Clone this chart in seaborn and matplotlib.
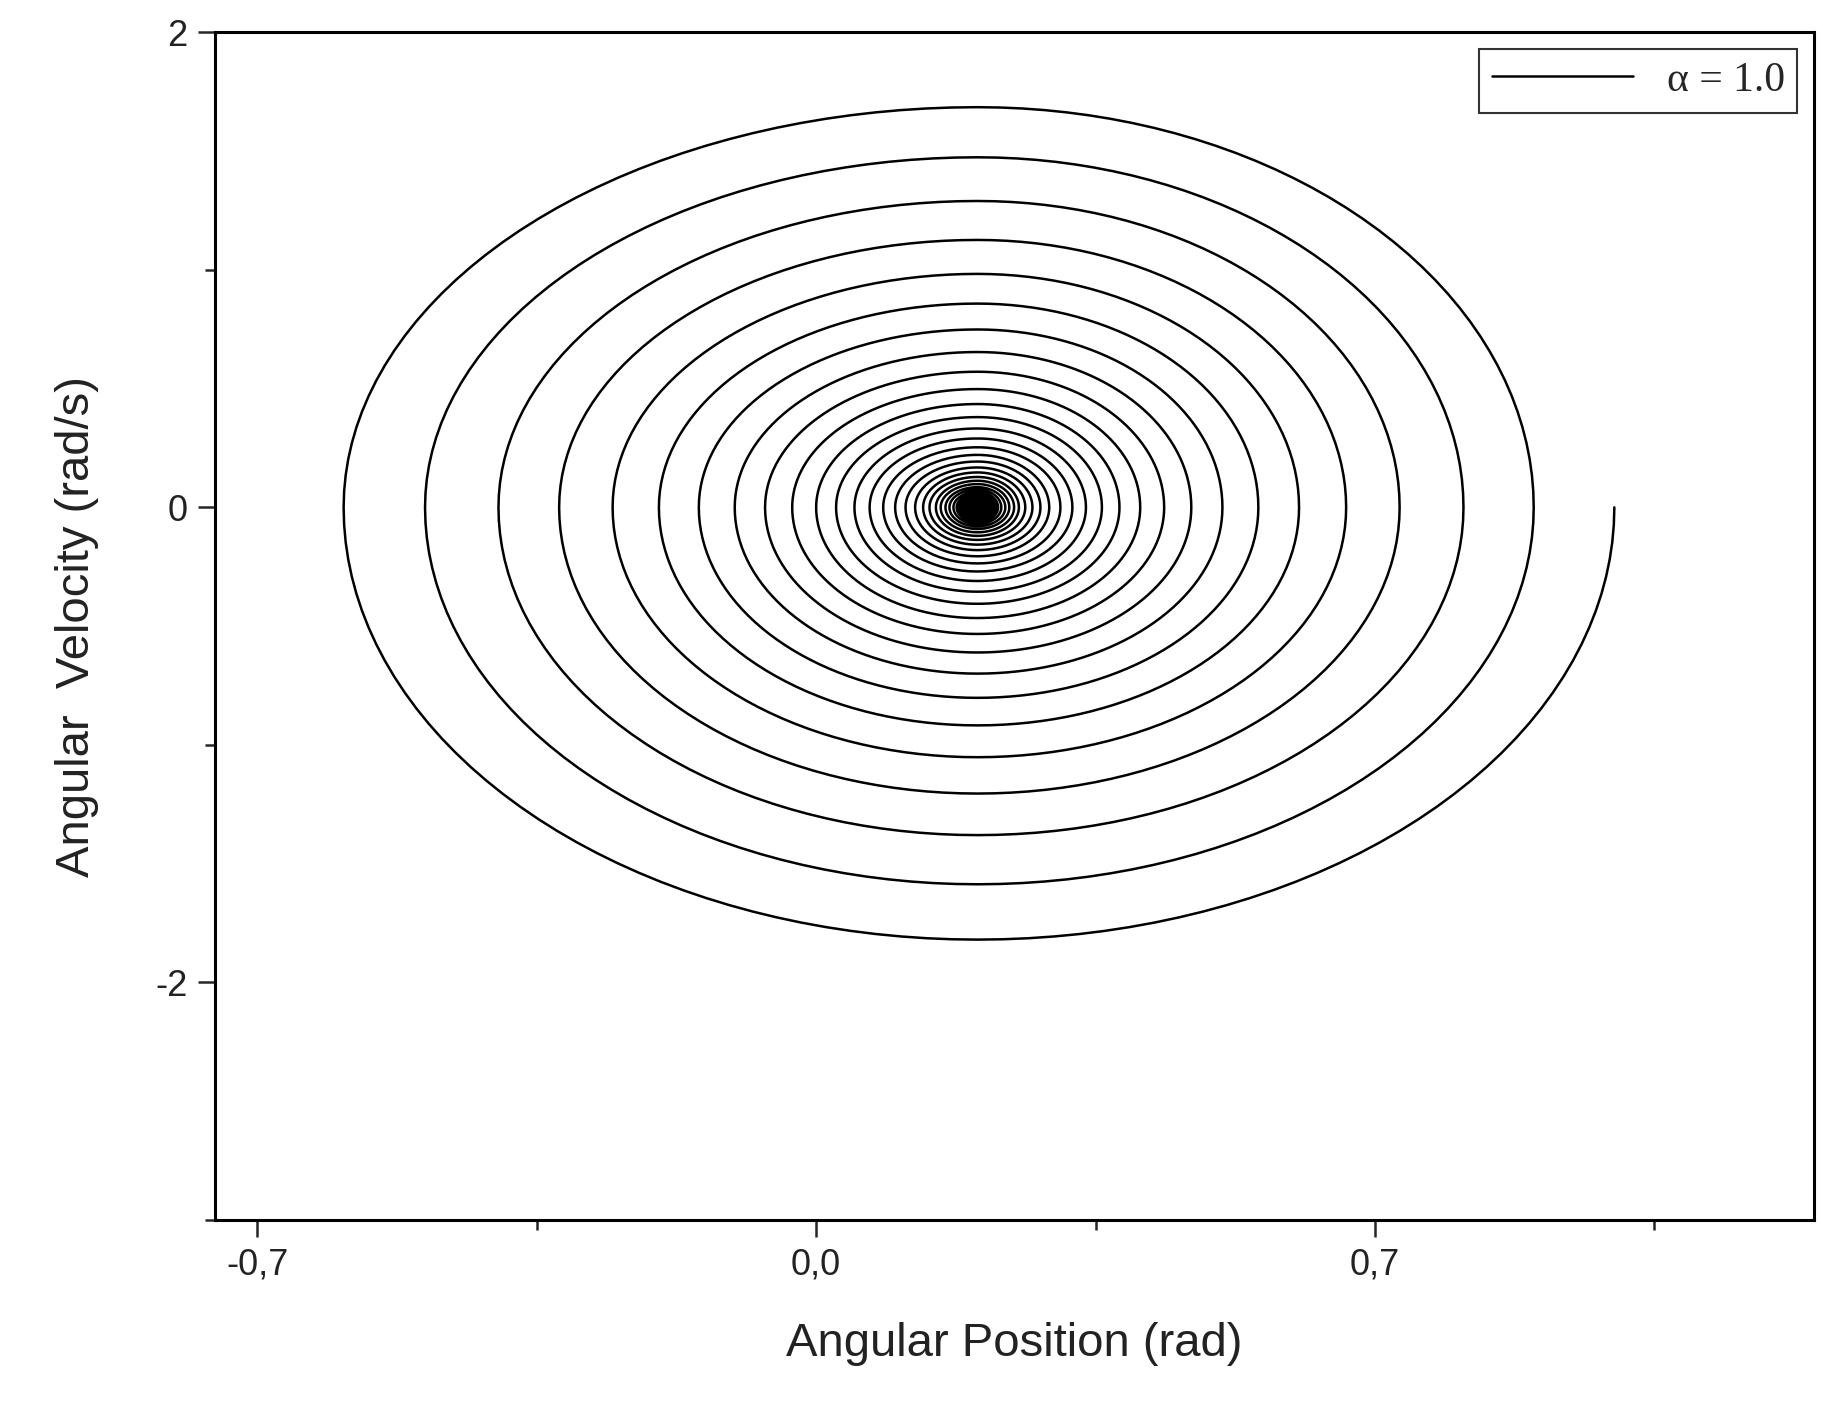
import numpy as np
import matplotlib
matplotlib.use("Agg")
import matplotlib.pyplot as plt
import seaborn as sns
import pandas as pd

sns.set_style("white")
plt.rcParams["font.family"] = ["Liberation Sans", "DejaVu Sans"]

center_x = 0.202
# per-turn extremes (amplitudes relative to center)
x_right = [0.798,0.697,0.609,0.529,0.462,0.403,0.352,0.307,0.268,0.234,0.204,0.178,0.156,0.136,0.119,0.104,
           0.090,0.079,0.069,0.060,0.052,0.046,0.040,0.035,0.030,0.026,0.023,0.020,0.018,0.015,0.013,0.012,
           0.010,0.009,0.008,0.007,0.006,0.005,0.004,0.003,0.002]
x_left = [0.794,0.692,0.600,0.524,0.457,0.399,0.349,0.304,0.266,0.232,0.202,0.177,0.154,0.135,0.118,0.103,
          0.090,0.078,0.068,0.060,0.052,0.046,0.040,0.035,0.030,0.026,0.023,0.020,0.018,0.015,0.013,0.012,
          0.010,0.009,0.008,0.007,0.006,0.005,0.004,0.003,0.002]
y_bottom = [1.82,1.587,1.38,1.205,1.052,0.918,0.802,0.700,0.611,0.533,0.466,0.406,0.355,0.310,0.270,0.236,
            0.206,0.180,0.157,0.137,0.120,0.105,0.091,0.080,0.070,0.061,0.053,0.046,0.040,0.035,0.031,0.027,
            0.023,0.020,0.018,0.015,0.013,0.011,0.009,0.007,0.005]
y_top = [1.685,1.474,1.290,1.126,0.983,0.858,0.749,0.654,0.571,0.498,0.435,0.380,0.332,0.290,0.253,0.221,
         0.193,0.168,0.147,0.128,0.112,0.098,0.085,0.075,0.065,0.057,0.050,0.043,0.038,0.033,0.029,0.025,
         0.021,0.019,0.016,0.014,0.012,0.010,0.008,0.006,0.004]

xtick_vals = [-0.7, 0.0, 0.7]
xtick_labels = ["-0,7", "0,0", "0,7"]
ytick_vals = [2, 0, -2]
ytick_labels = ["2", "0", "-2"]

# connect the read extremes with quarter-ellipse arcs
t = np.linspace(0, np.pi / 2, 40)
xs, ys = [], []
n = len(x_right)
for k in range(n):
    xr, xl, yb, yt = x_right[k], x_left[k], y_bottom[k], y_top[k]
    xr_next = x_right[k + 1] if k + 1 < n else 0.0
    xs += list(center_x + xr * np.cos(t)); ys += list(-yb * np.sin(t))
    xs += list(center_x - xl * np.sin(t)); ys += list(-yb * np.cos(t))
    xs += list(center_x - xl * np.cos(t)); ys += list(yt * np.sin(t))
    xs += list(center_x + xr_next * np.sin(t)); ys += list(yt * np.cos(t))
df = pd.DataFrame({"pos": xs, "vel": ys})

fig = plt.figure(figsize=(18.23, 14.07), dpi=100)
ax = fig.add_axes([0.118, 0.133, 0.877, 0.844])
sns.lineplot(data=df, x="pos", y="vel", sort=False, estimator=None, color="black",
             linewidth=1.8, ax=ax, label="α = 1.0")

ax.set_xlim(-0.753, 1.25)
ax.set_ylim(-3.0, 2.0)
ax.set_xticks(xtick_vals)
ax.set_xticklabels(xtick_labels)
ax.set_yticks(ytick_vals)
ax.set_yticklabels(ytick_labels)
ax.set_xticks([-0.35, 0.35, 1.05], minor=True)
ax.set_yticks([1, -1, -3], minor=True)
ax.tick_params(axis="both", which="major", direction="out", length=12, width=1.8,
               labelsize=26, labelcolor="#222222", bottom=True, left=True, pad=8)
ax.tick_params(axis="both", which="minor", direction="out", length=7, width=1.8,
               bottom=True, left=True)
for s in ax.spines.values():
    s.set_linewidth(2.2)
    s.set_color("black")
ax.set_xlabel("Angular Position (rad)", fontsize=34, labelpad=28, color="#222222")
ax.set_ylabel("Angular  Velocity (rad/s)", fontsize=34, labelpad=40, color="#222222")

leg = ax.legend(loc="upper right", frameon=True, fancybox=False,
                prop={"family": "Liberation Serif", "size": 30}, handlelength=3.4,
                borderaxespad=0.4, borderpad=0.3)
leg.get_frame().set_edgecolor("black")
leg.get_frame().set_linewidth(1.5)

fig.savefig("out.png", dpi=100)
